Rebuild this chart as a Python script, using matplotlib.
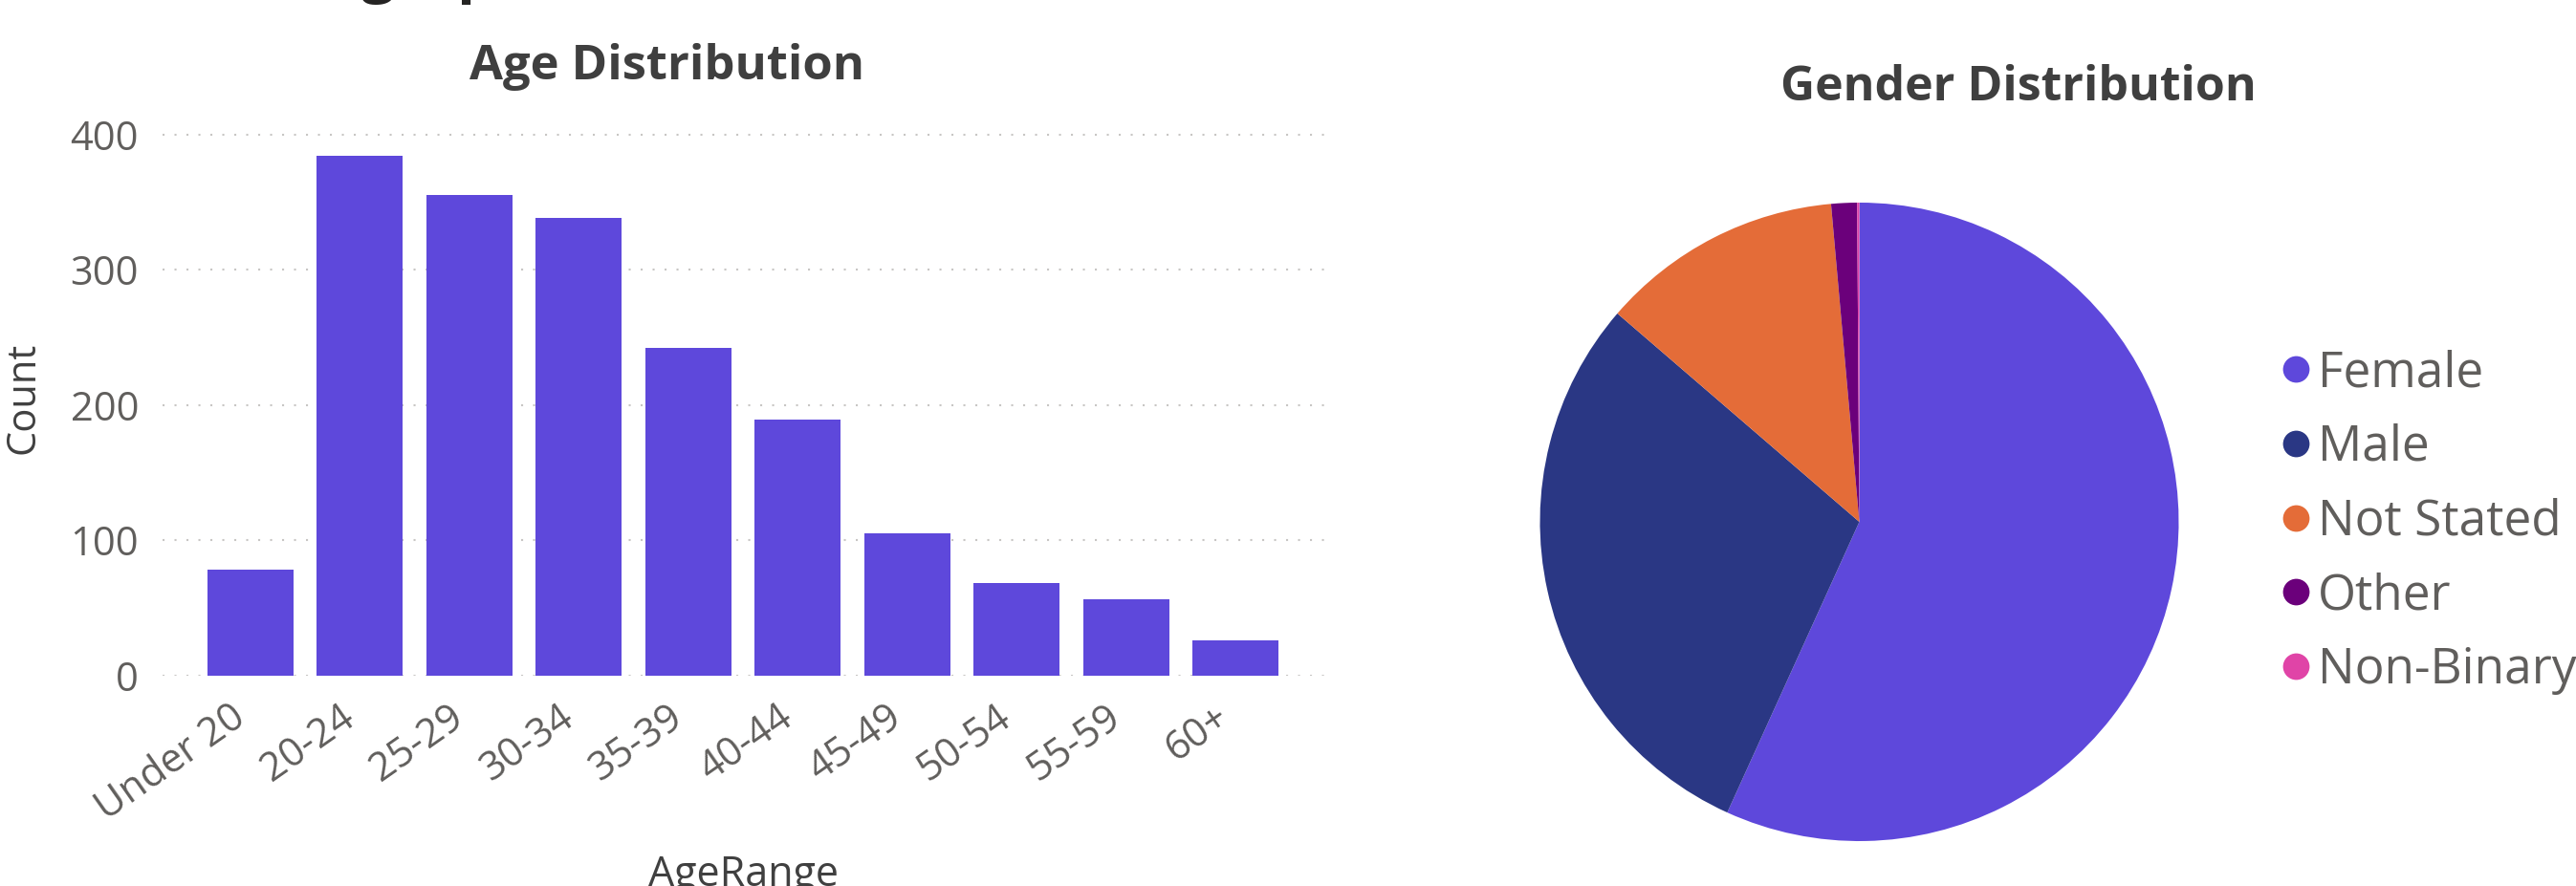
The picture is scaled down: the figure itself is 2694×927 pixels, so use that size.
import matplotlib
matplotlib.use("Agg")
import matplotlib.pyplot as plt
from matplotlib.lines import Line2D
from matplotlib.transforms import ScaledTranslation

plt.rcParams['font.family'] = ['Open Sans', 'DejaVu Sans']

# data
age_ranges = ['Under 20', '20-24', '25-29', '30-34', '35-39',
              '40-44', '45-49', '50-54', '55-59', '60+']
age_counts = [78, 384, 355, 338, 242, 189, 105, 68, 56, 26]

genders = ['Female', 'Male', 'Not Stated', 'Other', 'Non-Binary']
gender_counts = [1046, 544, 226, 24, 2]
gender_colors = ['#5E48DB', '#2A3784', '#E46C38', '#6B007B', '#E044A7']

bar_color = '#5E48DB'
tick_color = '#605E5C'
title_color = '#3F3F3F'

W, H = 2694, 927
fig = plt.figure(figsize=(W / 100, H / 100), dpi=100)

# cut-off page heading at the very top
fig.text(195 / W, 1 + 10 / H, 'Demographics', fontsize=45, fontweight='bold',
         color='#252423', va='baseline', ha='left')

# ---- bar chart ----
ax = fig.add_axes([170 / W, 1 - 706.7 / H, (1385 - 170) / W, (706.7 - 126.5) / H])
x = list(range(len(age_ranges)))
ax.bar(x, age_counts, width=0.786, color=bar_color, zorder=2)
ax.set_xlim(-0.803, 9.81)
ax.set_ylim(0, 410)
ax.set_yticks([0, 100, 200, 300, 400])
ax.set_xticks(x)
ax.set_xticklabels(age_ranges, rotation=35, ha='right', rotation_mode='anchor')
ax.tick_params(axis='both', length=0, labelsize=30, colors=tick_color)
ax.tick_params(axis='y', pad=18)
ax.tick_params(axis='x', pad=12)
shift = ScaledTranslation(-22 / 100, -6 / 100, fig.dpi_scale_trans)
for lab in ax.get_xticklabels():
    lab.set_transform(lab.get_transform() + shift)
ax.grid(axis='y', color='#C8C6C4', linestyle=(0, (1, 5)), linewidth=1.5, zorder=0)
for s in ax.spines.values():
    s.set_visible(False)
ax.set_ylabel('Count', fontsize=30, color='#404040', labelpad=20)
fig.text(778 / W, 1 - 893 / H, 'AgeRange', fontsize=31, color='#404040',
         ha='center', va='top')
fig.text(698 / W, 1 - 83 / H, 'Age Distribution', fontsize=36.5, fontweight='bold',
         color=title_color, ha='center', va='baseline')

# ---- pie chart ----
pax = fig.add_axes([(1944.5 - 334) / W, 1 - (546 + 334) / H, 668 / W, 668 / H])
pax.pie(gender_counts, colors=gender_colors, startangle=90, counterclock=False,
        wedgeprops=dict(linewidth=0))
pax.set_xlim(-1, 1)
pax.set_ylim(-1, 1)
pax.set_aspect('equal')
fig.text(2111 / W, 1 - 105 / H, 'Gender Distribution', fontsize=36, fontweight='bold',
         color=title_color, ha='center', va='baseline')

handles = [Line2D([], [], marker='o', linestyle='', markersize=20,
                  markerfacecolor=c, markeredgewidth=0) for c in gender_colors]
leg = fig.legend(handles, genders, loc='center left',
                 bbox_to_anchor=(2388 / W, 1 - 546 / H), frameon=False,
                 fontsize=37, labelcolor=tick_color, handlelength=0.5,
                 handletextpad=0.2, labelspacing=0.52, borderaxespad=0,
                 borderpad=0)

fig.savefig('out.png', dpi=100)
